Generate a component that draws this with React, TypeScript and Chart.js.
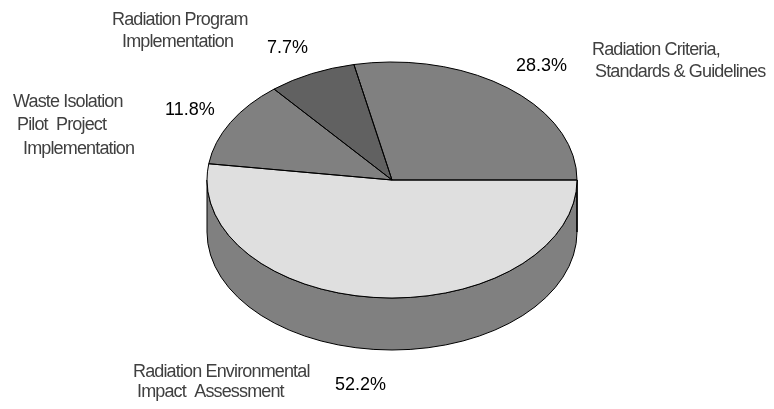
import React, { useEffect, useRef } from "react";
import { Chart, registerables } from "chart.js";

Chart.register(...registerables);

// ---- data ----
const categories = [
  "Radiation Environmental Impact Assessment",
  "Waste Isolation Pilot Project Implementation",
  "Radiation Program Implementation",
  "Radiation Criteria, Standards & Guidelines",
];
const shares = [52.2, 11.8, 7.7, 28.3];
const percentLabels = ["52.2%", "11.8%", "7.7%", "28.3%"];
const labelLines = [
  ["Radiation Environmental", "Impact  Assessment"],
  ["Waste Isolation", "Pilot  Project", "Implementation"],
  ["Radiation Program", "Implementation"],
  ["Radiation Criteria,", "Standards & Guidelines"],
];
const topColors = ["#dfdfdf", "#808080", "#616161", "#808080"];
const sideColors = ["#808080", "#808080", "#505050", "#808080"];

// ---- layout (positions only) ----
const W = 774;
const H = 409;
const TILT = 118 / 185; // vertical squash of the pie top
const DEPTH = 52; // extrusion depth in px
const TOP_Y = 180; // screen y of the pie centre
const labelPos = [
  { lines: [[133, 377], [137, 397]], pct: [335, 390] },
  { lines: [[13, 107], [17, 130], [23, 154]], pct: [165, 115] },
  { lines: [[112, 25], [122, 47]], pct: [267, 53] },
  { lines: [[592, 55], [595, 77]], pct: [516, 71] },
];

const pie3d = {
  id: "pie3d",
  beforeDatasetsDraw(chart: any) {
    const ctx = chart.ctx;
    const meta = chart.getDatasetMeta(0);
    const arcs = meta.data;
    if (!arcs.length) return;
    const cx = arcs[0].x;
    const rx = arcs[0].outerRadius;
    const ry = rx * TILT;
    const cy = TOP_Y;
    // side walls (front half only: screen angles 0..PI)
    arcs.forEach((arc: any, i: number) => {
      const TWO = Math.PI * 2;
      let s = arc.startAngle % TWO;
      let e = arc.endAngle % TWO;
      if (s < 0) s += TWO;
      if (e <= s) e += TWO;
      const segs: [number, number][] = [];
      for (const off of [0, TWO]) {
        const a = Math.max(s, off);
        const b = Math.min(e, off + Math.PI);
        if (b > a) segs.push([a - off, b - off]);
      }
      segs.forEach(([a, b]) => {
        ctx.save();
        ctx.beginPath();
        ctx.ellipse(cx, cy, rx, ry, 0, a, b, false);
        ctx.lineTo(cx + rx * Math.cos(b), cy + DEPTH + ry * Math.sin(b));
        ctx.ellipse(cx, cy + DEPTH, rx, ry, 0, b, a, true);
        ctx.closePath();
        ctx.fillStyle = sideColors[i];
        ctx.fill();
        ctx.lineWidth = 1;
        ctx.strokeStyle = "#000";
        ctx.lineJoin = "round";
        ctx.stroke();
        ctx.restore();
      });
    });
    // squash the top faces drawn by Chart.js
    ctx.save();
    ctx.translate(cx, cy);
    ctx.scale(1, TILT);
    ctx.translate(-cx, -arcs[0].y);
  },
  afterDatasetsDraw(chart: any) {
    const ctx = chart.ctx;
    ctx.restore();
    const meta = chart.getDatasetMeta(0);
    const arcs = meta.data;
    if (!arcs.length) return;
    const cx = arcs[0].x;
    const rx = arcs[0].outerRadius;
    const ry = rx * TILT;
    const cy = TOP_Y;
    ctx.save();
    ctx.lineWidth = 1;
    ctx.strokeStyle = "#000";
    ctx.lineJoin = "round";
    arcs.forEach((arc: any) => {
      ctx.beginPath();
      ctx.moveTo(cx, cy);
      ctx.lineTo(cx + rx * Math.cos(arc.startAngle), cy + ry * Math.sin(arc.startAngle));
      ctx.ellipse(cx, cy, rx, ry, 0, arc.startAngle, arc.endAngle, false);
      ctx.closePath();
      ctx.stroke();
    });
    ctx.restore();

    // labels
    ctx.save();
    ctx.textBaseline = "alphabetic";
    ctx.textAlign = "left";
    labelPos.forEach((p, i) => {
      ctx.font = "18px 'Liberation Sans', Arial, sans-serif";
      ctx.fillStyle = "#404040";
      try {
        (ctx as any).letterSpacing = "-0.85px";
      } catch (e) {}
      labelLines[i].forEach((t, j) => {
        ctx.fillText(t, p.lines[j][0], p.lines[j][1]);
      });
      try {
        (ctx as any).letterSpacing = "0px";
      } catch (e) {}
      ctx.fillStyle = "#000";
      ctx.fillText(percentLabels[i], p.pct[0], p.pct[1]);
    });
    ctx.restore();
  },
};

export default function App() {
  const ref = useRef<HTMLCanvasElement | null>(null);
  useEffect(() => {
    if (!ref.current) return;
    const chart = new Chart(ref.current, {
      type: "pie",
      data: {
        labels: categories,
        datasets: [
          {
            data: shares,
            backgroundColor: topColors,
            borderWidth: 0,
            clip: false as any,
          },
        ],
      },
      options: {
        responsive: false,
        animation: false,
        rotation: 90,
        layout: { padding: { left: 207, right: 197, top: 10, bottom: 29 } },
        plugins: {
          legend: { display: false },
          tooltip: { enabled: false },
        },
      },
      plugins: [pie3d],
    });
    return () => chart.destroy();
  }, []);
  return (
    <div style={{ position: "absolute", left: 0, top: 0, width: W, height: H, background: "#fff" }}>
      <canvas ref={ref} width={W} height={H} style={{ width: W, height: H, display: "block" }} />
    </div>
  );
}
